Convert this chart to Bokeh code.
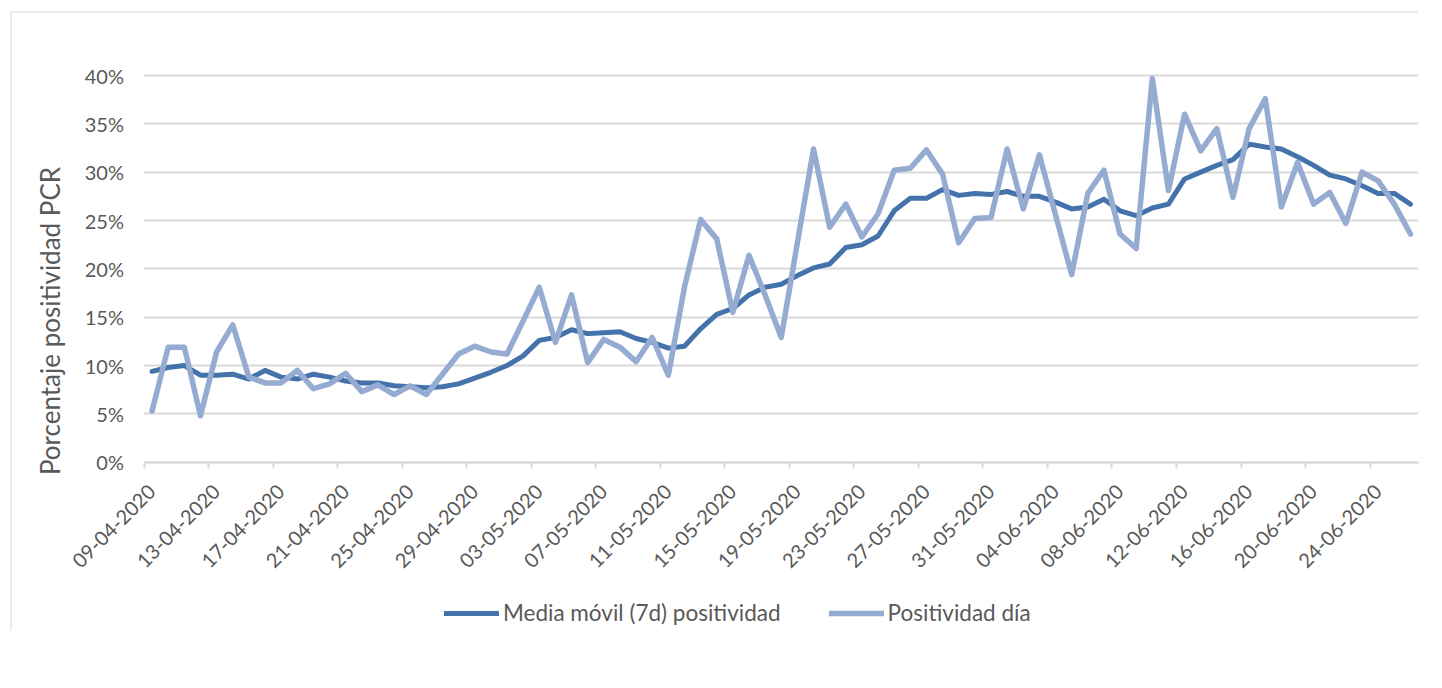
import pandas as pd
from bokeh.plotting import figure
from bokeh.models import (ColumnDataSource, Range1d, FixedTicker, NumeralTickFormatter,
                          Legend, LegendItem, BoxAnnotation, Span)
from bokeh.embed import file_html
from bokeh.resources import INLINE

# ---- data -------------------------------------------------------------
start_date = "2020-04-09"
n_days = 79
dates = [d.strftime("%d-%m-%Y") for d in pd.date_range(start_date, periods=n_days, freq="D")]

media_movil = [9.4, 9.8, 10.0, 9.0, 9.0, 9.1, 8.6, 9.5, 8.8, 8.6,
               9.1, 8.8, 8.4, 8.2, 8.2, 7.9, 7.8, 7.7, 7.8, 8.1,
               8.7, 9.3, 10.0, 11.0, 12.6, 12.9, 13.7, 13.3, 13.4, 13.5,
               12.8, 12.4, 11.8, 12.0, 13.8, 15.3, 15.9, 17.3, 18.1, 18.4,
               19.3, 20.1, 20.5, 22.2, 22.5, 23.4, 26.0, 27.3, 27.3, 28.2,
               27.6, 27.8, 27.7, 28.0, 27.5, 27.5, 26.9, 26.2, 26.4, 27.2,
               26.0, 25.5, 26.3, 26.7, 29.3, 30.0, 30.7, 31.3, 32.9, 32.6,
               32.4, 31.6, 30.7, 29.7, 29.3, 28.6, 27.8, 27.8, 26.7]

positividad_dia = [5.3, 11.9, 11.9, 4.8, 11.4, 14.2, 8.8, 8.2, 8.2, 9.5,
                   7.6, 8.1, 9.2, 7.3, 8.0, 7.0, 7.9, 7.0, 9.1, 11.2,
                   12.0, 11.4, 11.2, 14.6, 18.1, 12.4, 17.3, 10.3, 12.7, 11.9,
                   10.4, 12.9, 9.0, 18.1, 25.1, 23.1, 15.5, 21.4, 17.3, 12.9,
                   22.7, 32.4, 24.3, 26.7, 23.3, 25.7, 30.2, 30.4, 32.3, 29.8,
                   22.7, 25.2, 25.3, 32.4, 26.2, 31.8, 25.6, 19.4, 27.8, 30.2,
                   23.6, 22.1, 39.7, 28.1, 36.0, 32.2, 34.5, 27.4, 34.5, 37.6,
                   26.4, 31.0, 26.7, 27.9, 24.7, 30.0, 29.1, 26.7, 23.6]

tick_labels = ["09-04-2020", "13-04-2020", "17-04-2020", "21-04-2020", "25-04-2020",
               "29-04-2020", "03-05-2020", "07-05-2020", "11-05-2020", "15-05-2020",
               "19-05-2020", "23-05-2020", "27-05-2020", "31-05-2020", "04-06-2020",
               "08-06-2020", "12-06-2020", "16-06-2020", "20-06-2020", "24-06-2020"]

series_names = ["Media móvil (7d) positividad", "Positividad día"]
y_label = "Porcentaje positividad PCR"
y_ticks = [0, 0.05, 0.10, 0.15, 0.20, 0.25, 0.30, 0.35, 0.40]

# ---- layout geometry (pixels) -----------------------------------------
W, H = 1440, 684
FRAME_LEFT, FRAME_RIGHT = 10, 1418        # frame spans these page columns
FRAME_TOP, FRAME_BOTTOM = 11, 630         # frame spans these page rows
AXIS_LEFT_PX = 143.5                      # where the category axis starts
Y0_PX, Y40_PX = 461.7, 75.0               # where 0 % and 40 % sit
px_per_unit = (Y0_PX - Y40_PX) / 0.4
y_end = 0.4 + (Y40_PX - FRAME_TOP) / px_per_unit
y_start = -(FRAME_BOTTOM - Y0_PX) / px_per_unit
n = len(dates)
px_per_cat = (FRAME_RIGHT - AXIS_LEFT_PX) / n
x_end = n - 0.5
x_start = -0.5 - (AXIS_LEFT_PX - FRAME_LEFT) / px_per_cat

# ---- build ------------------------------------------------------------
x_idx = list(range(n))
src = ColumnDataSource(dict(
    x=x_idx, date=dates,
    media=[v / 100 for v in media_movil],
    dia=[v / 100 for v in positividad_dia],
))

FONT = "Lato"
TXT = "#595959"
GRID = "#d9d9d9"
DARK = "#4472AA"
LIGHT = "#95ABD2"

p = figure(width=W, height=H, output_backend="svg", toolbar_location=None,
           x_range=Range1d(x_start, x_end), y_range=Range1d(y_start, y_end),
           min_border_left=FRAME_LEFT, min_border_right=W - FRAME_RIGHT,
           min_border_top=FRAME_TOP, min_border_bottom=H - FRAME_BOTTOM)
p.outline_line_color = None
p.background_fill_color = "white"
p.border_fill_color = "white"

p.xgrid.grid_line_color = None
p.ygrid.grid_line_color = GRID
p.ygrid.grid_line_width = 2

# white mask so the gridlines start where the category axis starts
mask = BoxAnnotation(right=-0.5, fill_color="white", fill_alpha=1.0,
                     line_color=None, level="underlay")
p.add_layout(mask)

# chart-area border (top and left edges)
p.add_layout(Span(location=y_end, dimension="width", line_color=GRID, line_width=2))
p.add_layout(Span(location=x_start, dimension="height", line_color=GRID, line_width=2))

r1 = p.line("x", "media", source=src, line_color=DARK, line_width=5,
            line_join="round", line_cap="round")
r2 = p.line("x", "dia", source=src, line_color=LIGHT, line_width=5.5,
            line_join="round", line_cap="round")

# x axis drawn at 0 %: labels at category centres, tick marks at category boundaries
label_pos = [dates.index(t) for t in tick_labels]
p.xaxis.fixed_location = 0
p.xaxis.bounds = (-0.5, n - 0.5)
p.xaxis.ticker = FixedTicker(ticks=label_pos, minor_ticks=[i - 0.5 for i in label_pos])
p.xaxis.major_label_overrides = {i: t for i, t in zip(label_pos, tick_labels)}
p.xaxis.major_label_orientation = 0.785398
p.xaxis.major_tick_line_color = None
p.xaxis.major_tick_out = 0
p.xaxis.major_tick_in = 0
p.xaxis.minor_tick_line_color = GRID
p.xaxis.minor_tick_line_width = 2
p.xaxis.minor_tick_out = 6
p.xaxis.minor_tick_in = 0
p.xaxis.axis_line_color = GRID
p.xaxis.axis_line_width = 2
p.xaxis.major_label_standoff = 20
p.xaxis.major_label_text_font = FONT
p.xaxis.major_label_text_font_size = "20px"
p.xaxis.major_label_text_color = TXT

# y axis drawn at the start of the category axis
p.yaxis.fixed_location = -0.5
p.yaxis.ticker = FixedTicker(ticks=y_ticks)
p.yaxis.formatter = NumeralTickFormatter(format="0%")
p.yaxis.axis_line_color = None
p.yaxis.major_tick_line_color = None
p.yaxis.minor_tick_line_color = None
p.yaxis.major_tick_out = 0
p.yaxis.major_label_standoff = 20
p.yaxis.major_label_text_font = FONT
p.yaxis.major_label_text_font_size = "20px"
p.yaxis.major_label_text_color = TXT
p.yaxis.axis_label = y_label
p.yaxis.axis_label_text_font = FONT
p.yaxis.axis_label_text_font_style = "normal"
p.yaxis.axis_label_text_font_size = "26px"
p.yaxis.axis_label_text_color = TXT
p.yaxis.axis_label_standoff = 16

legend = Legend(items=[LegendItem(label=series_names[0], renderers=[r1]),
                       LegendItem(label=series_names[1], renderers=[r2])],
                orientation="horizontal", location=(444 - FRAME_LEFT, 4))
legend.glyph_width = 55
legend.glyph_height = 20
legend.label_standoff = 4
legend.spacing = 48
legend.padding = 0
legend.margin = 0
legend.border_line_color = None
legend.background_fill_alpha = 0
legend.label_text_font = FONT
legend.label_text_font_size = "22.5px"
legend.label_text_color = TXT
p.add_layout(legend, "center")

open("out.html", "w").write(file_html(p, INLINE))
